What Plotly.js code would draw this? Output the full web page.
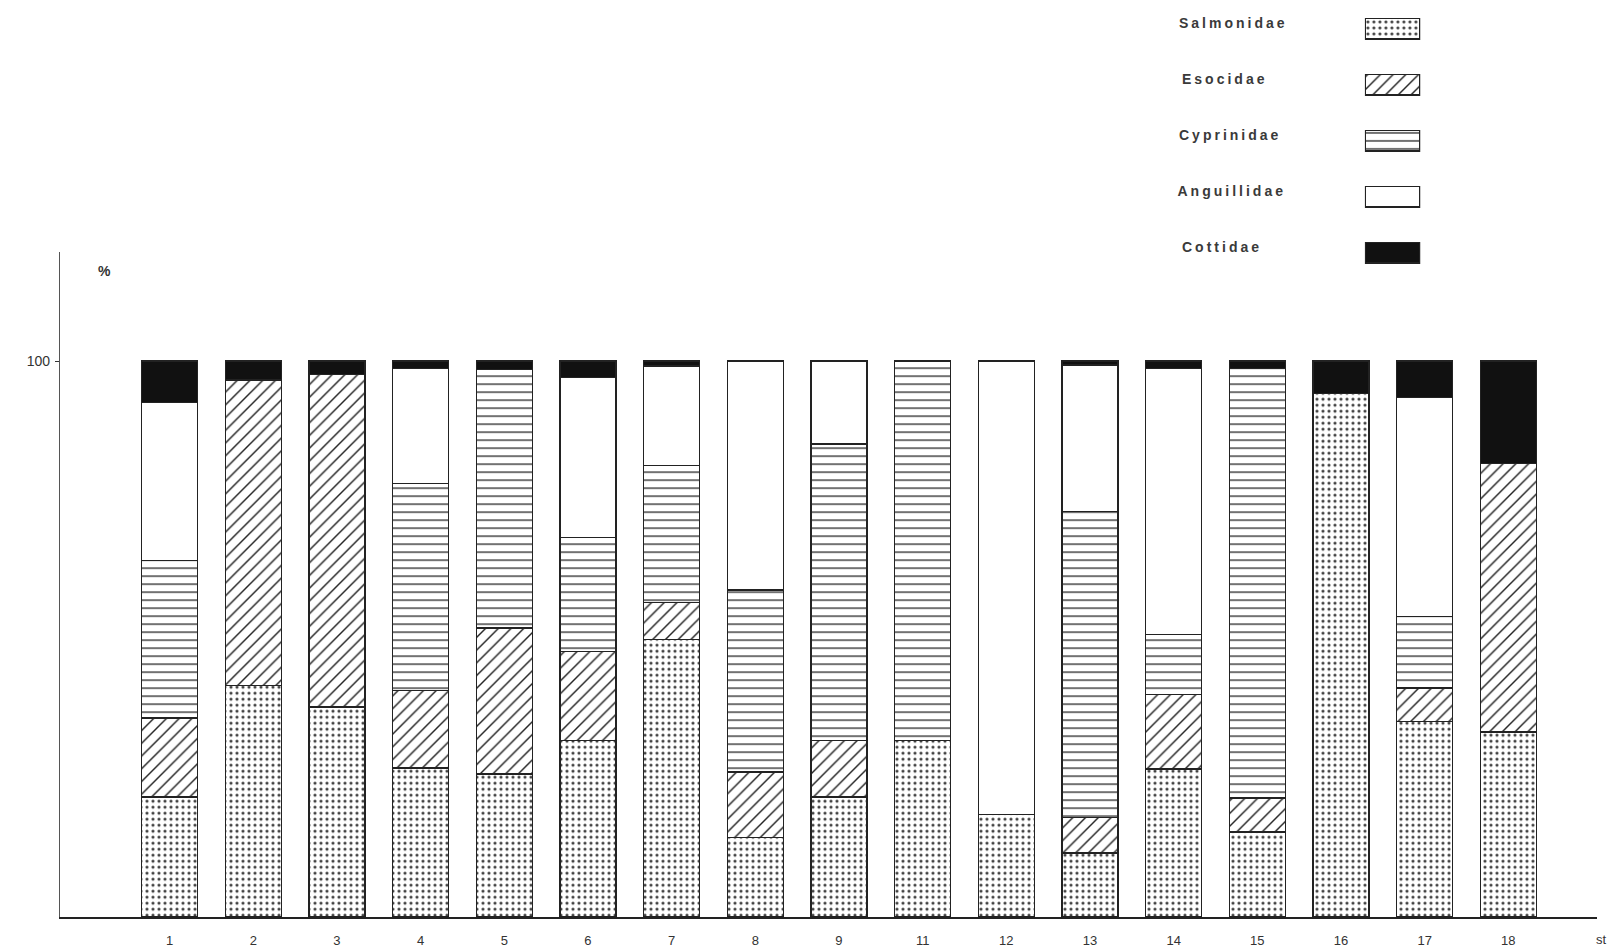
<!DOCTYPE html>
<html>
<head>
<meta charset="utf-8">
<script src="https://cdn.plot.ly/plotly-3.0.1.min.js"></script>
<style>
  html, body { margin: 0; padding: 0; background: #fff; }
  #chart { width: 1621px; height: 950px; }
  .annotation-text.famtxt { letter-spacing: 3px; }
</style>
</head>
<body>
<div id="chart"></div>
<script>
// Categories (station numbers)
const stations = ['1','2','3','4','5','6','7','8','9','11','12','13','14','15','16','17','18'];

// Percent composition per station (stacked, bottom to top)
const salmonidae  = [21.6, 41.7, 37.8, 26.8, 25.7, 31.7, 49.9, 14.3, 21.6, 31.8, 18.4, 11.5, 26.6, 15.3, 94.2, 35.2, 33.3];
const esocidae    = [14.2, 54.9, 59.8, 14.0, 26.3, 16.0,  6.7, 11.8, 10.2,  0.0,  0.0,  6.4, 13.4,  6.1,  0.0,  6.0, 48.3];
const cyprinidae  = [28.3,  0.0,  0.0, 37.2, 46.5, 20.6, 24.6, 32.7, 53.3, 68.2,  0.0, 55.1, 10.8, 77.3,  0.0, 12.8,  0.0];
const anguillidae = [28.5,  0.0,  0.0, 20.7,  0.0, 28.7, 17.9, 41.2, 14.9,  0.0, 81.6, 26.3, 47.9,  0.0,  0.0, 39.5,  0.0];
const cottidae    = [ 7.4,  3.4,  2.4,  1.3,  1.5,  3.0,  0.9,  0.0,  0.0,  0.0,  0.0,  0.7,  1.3,  1.3,  5.8,  6.5, 18.4];

const familyNames = ['Salmonidae','Esocidae','Cyprinidae','Anguillidae','Cottidae'];

const series = [salmonidae, esocidae, cyprinidae, anguillidae, cottidae];
const shapes = ['.', '/', '-', '', ''];
const fills  = ['#ffffff', '#ffffff', '#ffffff', '#ffffff', '#111111'];
const fgcols = ['#444444', '#222222', '#222222', '#222222', '#222222'];
const psize  = [6, 9, 8, 8, 8];
const psol   = [0.22, 0.16, 0.16, 0.1, 0.1];

function patternFor(i) {
  if (!shapes[i]) return { shape: '' };
  return { shape: shapes[i], fgcolor: fgcols[i], bgcolor: fills[i], size: psize[i], solidity: psol[i], fillmode: 'replace' };
}

const traces = series.map((vals, i) => ({
  type: 'bar',
  name: familyNames[i],
  x: stations,
  y: vals.map(v => v > 0 ? v : null),
  xaxis: 'x', yaxis: 'y',
  marker: {
    color: fills[i],
    line: { color: '#222', width: 1.3 },
    pattern: patternFor(i)
  },
  hoverinfo: 'skip',
  showlegend: false
}));

// Legend swatches: one small horizontal bar per family in a dedicated subplot
familyNames.forEach((n, i) => {
  traces.push({
    type: 'bar',
    orientation: 'h',
    x: [1],
    y: [n],
    xaxis: 'x2', yaxis: 'y2',
    width: 0.37,
    marker: {
      color: fills[i],
      line: { color: '#222', width: 1.5 },
      pattern: patternFor(i)
    },
    hoverinfo: 'skip',
    showlegend: false
  });
});

const annotations = familyNames.map((n, i) => ({
  xref: 'paper', yref: 'y2',
  x: 0.7365, y: n,
  xanchor: 'left', yanchor: 'middle',
  yshift: 6,
  text: n,
  showarrow: false,
  font: { family: 'Liberation Sans, Arial, sans-serif', size: 14, color: '#3a3a3a', weight: 'bold' },
  captureevents: false
}));
annotations.push({
  xref: 'paper', yref: 'paper', x: 0.0235, y: 0.704,
  xanchor: 'left', yanchor: 'middle', text: '%', showarrow: false,
  font: { family: 'Liberation Sans, Arial, sans-serif', size: 14, color: '#333', weight: 'bold' }
});
annotations.push({
  xref: 'paper', yref: 'paper', x: 1.003, y: -0.024,
  xanchor: 'center', yanchor: 'middle', text: 'st', showarrow: false,
  font: { family: 'Liberation Sans, Arial, sans-serif', size: 13, color: '#333' }
});

const layout = {
  width: 1621, height: 950,
  margin: { l: 60, r: 24, t: 0, b: 33 },
  paper_bgcolor: '#ffffff', plot_bgcolor: 'rgba(0,0,0,0)',
  barmode: 'stack',
  bargap: 0.333,
  showlegend: false,
  font: { family: 'Liberation Sans, Arial, sans-serif', size: 13, color: '#333' },
  xaxis: {
    type: 'category',
    domain: [0, 1],
    range: [-1.31, 17.06],
    showline: true, linecolor: '#222', linewidth: 2,
    showgrid: false, zeroline: false,
    ticks: '', ticklabelstandoff: 10,
    tickfont: { size: 13, color: '#333' },
    fixedrange: true
  },
  yaxis: {
    domain: [0, 0.725],
    range: [0, 119.6],
    showline: true, linecolor: '#555', linewidth: 1.2,
    showgrid: false, zeroline: false,
    tickmode: 'array', tickvals: [100], ticktext: ['100'],
    ticks: 'outside', ticklen: 4, tickcolor: '#333',
    tickfont: { size: 14, color: '#333' },
    ticklabelstandoff: 2,
    fixedrange: true
  },
  xaxis2: {
    domain: [0.849, 0.885], range: [0, 1], anchor: 'y2',
    visible: false, fixedrange: true
  },
  yaxis2: {
    domain: [0.694, 0.999], type: 'category', anchor: 'x2',
    autorange: 'reversed',
    visible: false, fixedrange: true
  },
  annotations: annotations
};

Plotly.newPlot('chart', traces, layout, { displayModeBar: false, staticPlot: true }).then(() => {
  document.querySelectorAll('.annotation-text').forEach((t, i) => {
    if (i < familyNames.length) t.classList.add('famtxt');
  });
});
</script>
</body>
</html>
